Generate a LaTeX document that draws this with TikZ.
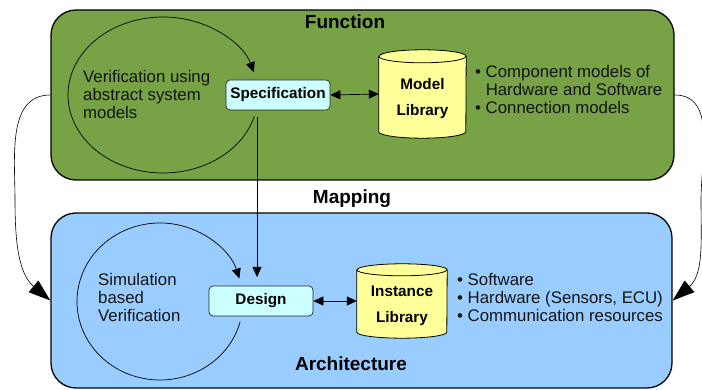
\documentclass[tikz,border=0pt]{standalone}
\usepackage{fontspec}
\setmainfont{Liberation Sans}
\usetikzlibrary{arrows.meta,calc}
\definecolor{fungreen}{RGB}{119,162,70}
\definecolor{archblue}{RGB}{153,204,255}
\definecolor{boxcyan}{RGB}{204,255,255}
\definecolor{libyellow}{RGB}{255,255,153}
\definecolor{inktext}{RGB}{20,20,20}
\pgfdeclarelayer{back}
\pgfdeclarelayer{cyl}
\pgfsetlayers{back,cyl,main}
\tikzset{
 region/.style={draw=black, line width=1.3pt, rounded corners=25pt, inner sep=0pt},
 title/.style={font=\fontsize{19}{22}\selectfont\bfseries, inner sep=0pt},
 body/.style={font=\fontsize{16.8}{18}\selectfont, align=left, inner sep=0pt, text=inktext},
 procbox/.style={draw=black!85, line width=0.7pt, fill=boxcyan, rounded corners=4pt, minimum width=104pt, minimum height=30pt, inner sep=0pt, font=\fontsize{15.3}{18}\selectfont\bfseries},
 libnode/.style={inner sep=0pt, align=center, font=\fontsize{15.3}{26}\selectfont\bfseries},
 conn/.style={draw=black, line width=0.7pt},
 tip/.style={-{Triangle[length=10pt,width=9pt]}},
 tips/.style={{Triangle[length=10pt,width=9pt]}-{Triangle[length=10pt,width=9pt]}},
 bigtip/.style={-{Triangle[length=22pt,width=15pt]}}
}
\newcommand\libcyl[3]{%
 \begin{pgfonlayer}{cyl}
 \path[draw=black, line width=0.8pt, fill=libyellow] ([yshift=-#3pt]#1.north west) -- ([yshift=#3pt]#1.south west) arc[start angle=180,end angle=360,x radius=#2pt,y radius=#3pt] -- ([yshift=-#3pt]#1.north east) arc[start angle=0,end angle=180,x radius=#2pt,y radius=#3pt] -- cycle;
 \draw[line width=0.8pt] ([yshift=-#3pt]#1.north west) arc[start angle=180,end angle=360,x radius=#2pt,y radius=#3pt];
 \end{pgfonlayer}}
\begin{document}
\begin{tikzpicture}[x=1pt,y=1pt]
\useasboundingbox (0,0) rectangle (702,390);
\begin{pgfonlayer}{back}
\node[region, fill=fungreen, minimum width=623pt, minimum height=170pt] (func) at (362.5,295) {};
\node[region, fill=archblue, minimum width=621pt, minimum height=175pt] (arch) at (361.5,89.5) {};
\end{pgfonlayer}
% titles
\node[title] (tfunc) at (345,368) {Function};
\node[title] (tmap) at (352,191) {Mapping};
\node[title] (tarch) at (351,26) {Architecture};
% function area
\node[body, anchor=west] (vtext) at (83,295) {Verification using\\abstract system\\models};
\node[procbox] (spec) at (278,295) {Specification};
\node[libnode, minimum width=87pt, minimum height=88pt] (ml) at (422.5,296) {\rule{0pt}{21pt}Model\\Library};
\libcyl{ml}{43.5}{6.5}
\node[body, anchor=west] (fbul) at (475,300) {• Component models of\\\phantom{• }Hardware and Software\\• Connection models};
\draw[conn,tips] (spec.east) -- (ml.west);
\draw[conn,tip] (163,295) ++(-16:95pt and 78pt) arc[start angle=-16, end angle=-343, x radius=95pt, y radius=78pt];
% architecture area
\node[body, anchor=west] (stext) at (98,92) {Simulation\\based\\Verification};
\node[procbox] (design) at (261,89) {Design};
\node[libnode, minimum width=90pt, minimum height=74pt] (il) at (402,89) {\rule{0pt}{20pt}Instance\\Library};
\libcyl{il}{45}{6}
\node[body, anchor=west] (abul) at (457,92) {• Software\\• Hardware (Sensors, ECU)\\• Communication resources};
\draw[conn,tips] (design.east) -- (il.west);
\draw[conn,tip] (160,88.5) ++(-15:83pt and 78.5pt) arc[start angle=-15, end angle=-343, x radius=83pt, y radius=78.5pt];
% mapping
\coordinate (mapA) at (257,273);
\coordinate (mapB) at (257,113);
\draw[conn,tip] (mapA) -- (mapB);
% side curves
\coordinate (lmid) at (15,190);
\coordinate (rmid) at (701,190);
\draw[conn,line width=0.6pt,bigtip] (func.west) to[out=180,in=90] (lmid) to[out=-90,in=140] (arch.west);
\draw[conn,line width=0.6pt,bigtip] (func.east) to[out=0,in=90] (rmid) to[out=-90,in=40] (arch.east);
\end{tikzpicture}
\end{document}
